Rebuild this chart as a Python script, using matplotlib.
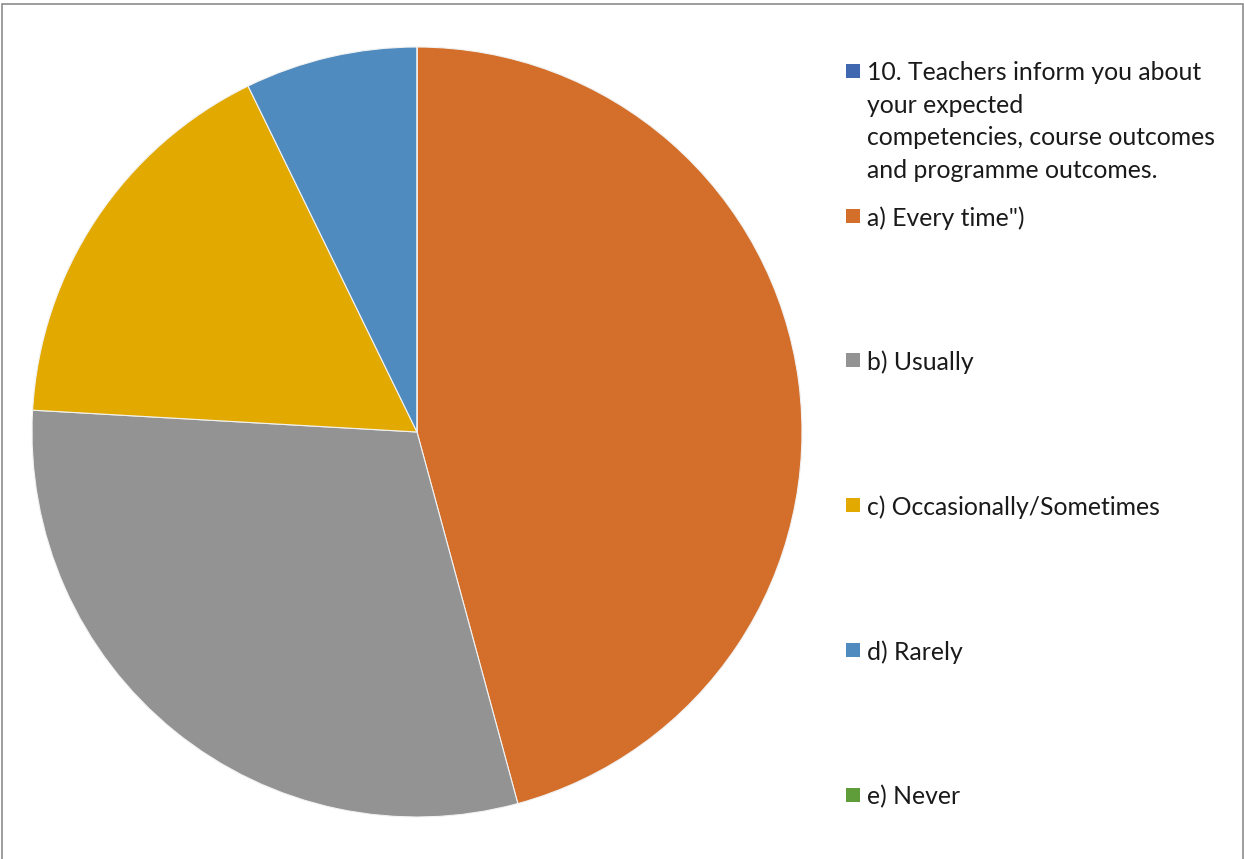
import matplotlib
matplotlib.use("Agg")
import matplotlib.pyplot as plt
from matplotlib.patches import Rectangle

# Survey responses (counts)
categories = ["a) Every time\")", "b) Usually", "c) Occasionally/Sometimes", "d) Rarely", "e) Never"]
counts = [38, 25, 14, 6, 0]
colors = ["#D36F2B", "#939393", "#E2AA00", "#4F8BBE", "#5E9D3A"]
series_name = "10. Teachers inform you about\nyour expected\ncompetencies, course outcomes\nand programme outcomes."
series_color = "#4068B0"

W, H = 1244, 859
fig = plt.figure(figsize=(W / 100, H / 100), dpi=100)
fig.patch.set_facecolor("white")

# chart border
fig.add_artist(Rectangle((2 / W, -0.01), 1241 / W, 1 - 4 / H + 0.01,
                         transform=fig.transFigure, fill=False,
                         edgecolor="#8C8C8C", linewidth=1.2))

# pie area
cx, cy, r = 417, 432, 385
ax = fig.add_axes([(cx - r) / W, (H - cy - r) / H, 2 * r / W, 2 * r / H])
ax.pie(counts, colors=colors, startangle=90, counterclock=False, radius=1,
       wedgeprops=dict(edgecolor="#F2F2F2", linewidth=0.8))
ax.set_xlim(-1, 1)
ax.set_ylim(-1, 1)
ax.set_aspect("equal")
ax.axis("off")

font = "Lato"
fs = 17.8
mx, msz = 846, 14
tx = 867
line_gap = 32.4


def marker(y, color):
    fig.add_artist(Rectangle((mx / W, (H - y - msz / 2) / H), msz / W, msz / H,
                             transform=fig.transFigure, facecolor=color,
                             edgecolor="none"))


def label(y, text):
    fig.text(tx / W, (H - y) / H, text, fontsize=fs, family=font,
             color="#1A1A1A", va="center_baseline")


# series title entry, one text line per row
marker(71, series_color)
for i, line in enumerate(series_name.split("\n")):
    label(71 + i * line_gap, line)

ys = [216, 360, 505, 650, 795]
for y, c, lab in zip(ys, colors, categories):
    marker(y, c)
    label(y, lab)

fig.savefig("out.png", dpi=100, facecolor="white")
